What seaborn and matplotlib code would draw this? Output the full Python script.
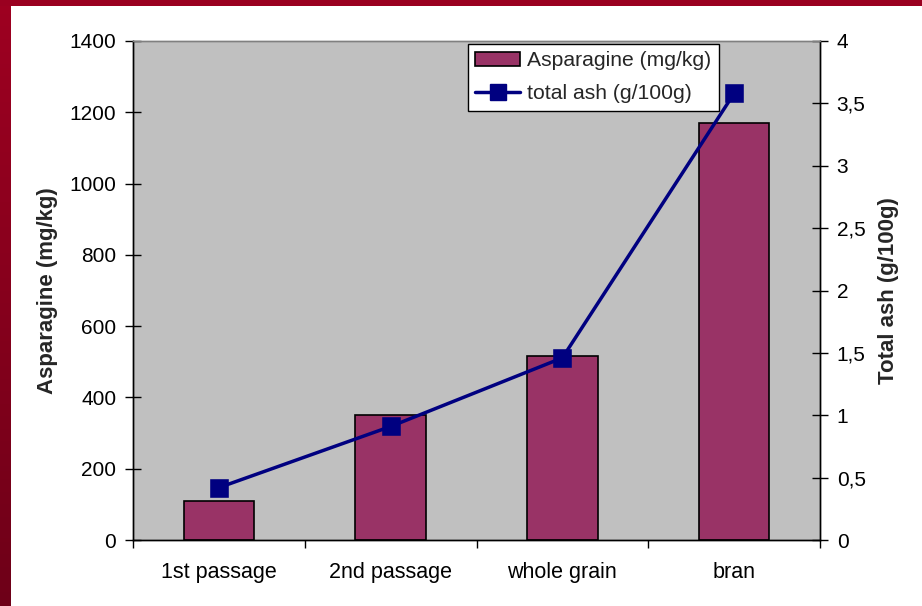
import numpy as np
import pandas as pd
import matplotlib
matplotlib.use("Agg")
import matplotlib.pyplot as plt
from matplotlib.patches import Patch, Rectangle
from matplotlib.lines import Line2D
from matplotlib.ticker import FuncFormatter, FixedLocator
from matplotlib.colors import LinearSegmentedColormap
import seaborn as sns

# Data
categories = ["1st passage", "2nd passage", "whole grain", "bran"]
asparagine = [110, 350, 515, 1170]       # mg/kg
total_ash = [0.42, 0.91, 1.46, 3.58]     # g/100g

df = pd.DataFrame({"fraction": categories,
                   "asparagine": asparagine,
                   "ash": total_ash})

sns.set_theme(style="white")
plt.rcParams["font.family"] = ["Liberation Sans", "DejaVu Sans"]

fig = plt.figure(figsize=(9.22, 6.06), dpi=100)
fig.patch.set_facecolor("white")

# Dark red frame along the top and left edges
frame_ax = fig.add_axes([0, 0, 10 / 922, 1])
grad = np.linspace(0, 1, 256).reshape(-1, 1)
cmap = LinearSegmentedColormap.from_list("frame", ["#6e0018", "#9e0021"])
frame_ax.imshow(grad, aspect="auto", cmap=cmap, origin="lower", extent=[0, 1, 0, 1])
frame_ax.set_axis_off()
fig.patches.append(Rectangle((0, 1 - 6 / 606), 1, 6 / 606, transform=fig.transFigure,
                             facecolor="#9a0020", edgecolor="none", zorder=0))

L, R, T, B = 133, 820, 41, 540
ax = fig.add_axes([L / 922, 1 - B / 606, (R - L) / 922, (B - T) / 606])
ax.set_facecolor("#c0c0c0")

sns.barplot(data=df, x="fraction", y="asparagine", ax=ax, color="#993366",
            saturation=1, width=0.41, edgecolor="black", linewidth=1.2, zorder=2)

ax2 = ax.twinx()
sns.pointplot(data=df, x="fraction", y="ash", ax=ax2, color="#000080",
              markers="s", markersize=12, linewidth=2.5)
for ln in ax2.lines:
    ln.set_markeredgecolor("#000080")

ax.set_xlim(-0.5, 3.5)
ax.set_ylim(0, 1400)
ax2.set_ylim(0, 4)
ax.set_yticks(np.arange(0, 1401, 200))
ax2.set_yticks(np.arange(0, 4.01, 0.5))
ax2.yaxis.set_major_formatter(FuncFormatter(
    lambda v, p: (f"{v:g}").replace(".", ",")))

ax.set_xlabel("")
ax.set_ylabel("Asparagine (mg/kg)", fontsize=16, fontweight="bold", labelpad=8)
ax2.set_ylabel("Total ash (g/100g)", fontsize=16, fontweight="bold",
               rotation=90, labelpad=9)

# category labels centred, tick marks on the category boundaries
ax.tick_params(axis="x", which="major", length=0, labelsize=15.5, pad=16, colors="black")
ax.xaxis.set_minor_locator(FixedLocator([-0.5, 0.5, 1.5, 2.5, 3.5]))
ax.tick_params(axis="x", which="minor", length=6, width=1, direction="out",
               bottom=True, color="black")
ax.tick_params(axis="y", which="major", length=12, width=1, direction="inout",
               left=True, labelsize=15, pad=6, colors="black")
ax2.tick_params(axis="y", which="major", length=12, width=1, direction="inout",
                right=True, labelsize=15, pad=6, colors="black")
ax2.set_xlim(-0.5, 3.5)

for a in (ax, ax2):
    a.grid(False)
    a.spines["top"].set_color("#808080")
    a.spines["left"].set_color("black")
    a.spines["right"].set_color("black")
    a.spines["bottom"].set_color("black")
    for s in a.spines.values():
        s.set_linewidth(1)
ax2.patch.set_visible(False)
ax.set_zorder(0)
ax2.set_zorder(1)

handles = [Patch(facecolor="#993366", edgecolor="black", linewidth=1.2),
           Line2D([0], [0], color="#000080", linewidth=2.5, marker="s",
                  markersize=12)]
leg = ax2.legend(handles, ["Asparagine (mg/kg)", "total ash (g/100g)"],
                 loc="upper left", bbox_to_anchor=((468 - L) / (R - L), 1 - 3 / (B - T)),
                 fontsize=15.2, frameon=True, fancybox=False, framealpha=1,
                 edgecolor="black", borderpad=0.35, handlelength=2.1,
                 handleheight=0.7, handletextpad=0.35, labelspacing=0.65,
                 borderaxespad=0)
leg.get_frame().set_linewidth(1)

fig.savefig("out.png", dpi=100, facecolor="white")
